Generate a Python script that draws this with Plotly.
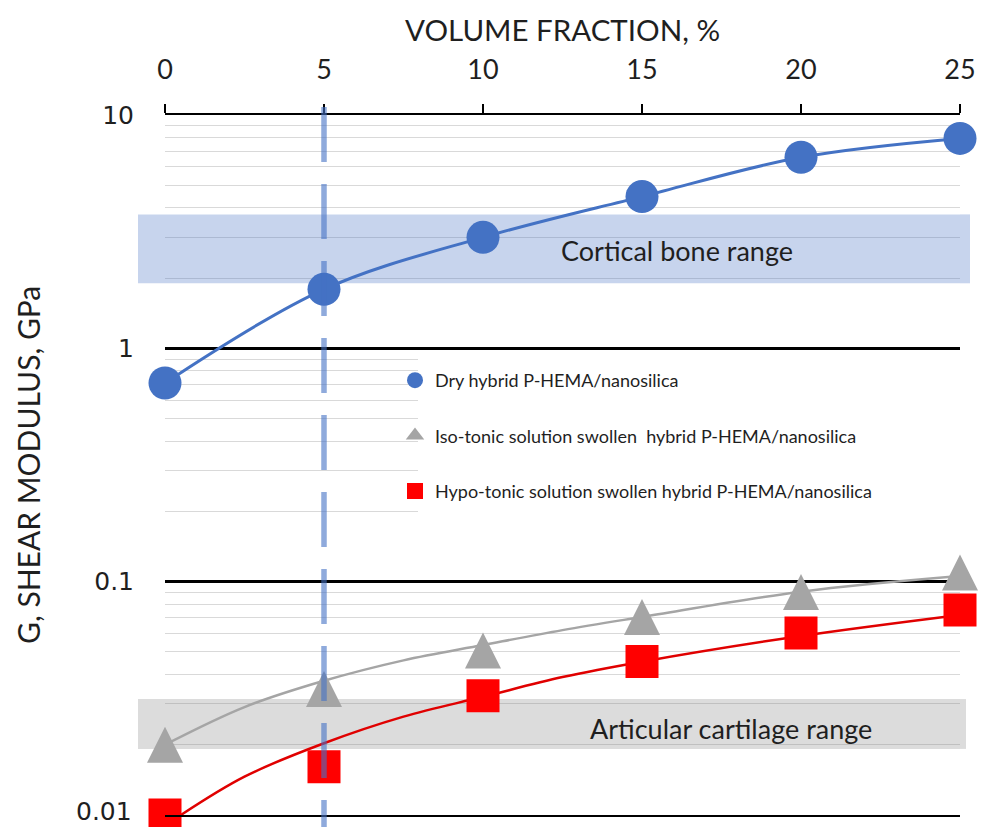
import plotly.graph_objects as go

# ---------------- data ----------------
VOLUME_FRACTION = [0, 5, 10, 15, 20, 25]
DRY = [0.71, 1.79, 2.99, 4.47, 6.59, 7.94]
ISO = [0.0200, 0.0347, 0.0507, 0.0706, 0.0903, 0.1095]
HYPO = [0.0100, 0.0161, 0.0324, 0.0455, 0.0603, 0.0756]

# trend curves drawn in the reference (read at several x positions)
ISO_FIT_X = [0, 2.5, 5, 7.5, 10, 12.5, 15, 20, 25]
ISO_FIT_Y = [0.0200, 0.0290, 0.0376, 0.0460, 0.0535, 0.0620, 0.0706, 0.0906, 0.1057]
HYPO_FIT_X = [0.5, 2.5, 5, 7.5, 10, 12.5, 15, 20, 25]
HYPO_FIT_Y = [0.0100, 0.0146, 0.0203, 0.0264, 0.0321, 0.0390, 0.0454, 0.0585, 0.0720]

CORTICAL_BONE_RANGE = [1.9, 3.75]
ARTICULAR_CARTILAGE_RANGE = [0.0192, 0.0314]
REFERENCE_FRACTION = 5

SERIES_NAMES = [
    "Dry hybrid P-HEMA/nanosilica",
    "Iso-tonic solution swollen  hybrid P-HEMA/nanosilica",
    "Hypo-tonic solution swollen hybrid P-HEMA/nanosilica",
]
X_TICKS = [0, 5, 10, 15, 20, 25]
Y_TICKS = [0.01, 0.1, 1, 10]
Y_TICK_TEXT = ["0.01", "0.1", "1", "10"]
Y_MINOR = [k * 10.0 ** e for e in (-2, -1, 0) for k in range(2, 10)]

X_TITLE = "VOLUME FRACTION, %"
Y_TITLE = "G, SHEAR MODULUS, GPa"
CORTICAL_LABEL = "Cortical bone range"
CARTILAGE_LABEL = "Articular cartilage range"

# ---------------- styling ----------------
BLUE = "#4472C4"
GREY = "#A5A5A5"
RED = "#FF0000"
TEXT = "#1f1f1f"
FONT = "Lato"
TICK_FONT = dict(family="DejaVu Sans", size=25, color=TEXT)
BAND_BLUE = "rgba(68,114,196,0.30)"
BAND_GREY = "rgba(120,120,120,0.26)"

X_RANGE = [0, 25]
PAGE_OFFSET = 8          # default body margin of the html page
W, H = 979, 819
ML, MR, MT, MB = 157, 27, 107, 12
PW, PH = W - ML - MR, H - MT - MB


def sx(px):
    """screen x pixel -> paper fraction"""
    return (px - PAGE_OFFSET - ML) / PW


def sy(py):
    """screen y pixel -> paper fraction"""
    return (H - MB - (py - PAGE_OFFSET)) / PH


fig = go.Figure()

# trend / connecting lines
fig.add_trace(go.Scatter(x=VOLUME_FRACTION, y=DRY, mode="lines",
                         line=dict(color=BLUE, width=3, shape="spline"),
                         showlegend=False, hoverinfo="skip"))
fig.add_trace(go.Scatter(x=ISO_FIT_X, y=ISO_FIT_Y, mode="lines",
                         line=dict(color=GREY, width=2.5, shape="spline"),
                         showlegend=False, hoverinfo="skip"))
fig.add_trace(go.Scatter(x=HYPO_FIT_X, y=HYPO_FIT_Y, mode="lines",
                         line=dict(color="#E00000", width=2.5, shape="spline"),
                         showlegend=False, hoverinfo="skip"))

# markers
fig.add_trace(go.Scatter(x=VOLUME_FRACTION, y=DRY, mode="markers", name=SERIES_NAMES[0],
                         legendgroup="a",
                         marker=dict(symbol="circle", size=33, color=BLUE),
                         cliponaxis=False))
# triangles: tall isosceles triangle centred on the value
fig.add_trace(go.Scatter(x=VOLUME_FRACTION, y=ISO, mode="markers", name=SERIES_NAMES[1],
                         legendgroup="b", showlegend=False,
                         marker=dict(symbol="arrow-down", angle=180, size=36, color=GREY,
                                     standoff=18),
                         cliponaxis=False))
# legend entry for the triangles
fig.add_trace(go.Scatter(x=[None], y=[None], mode="markers", name=SERIES_NAMES[1],
                         legendgroup="b",
                         marker=dict(symbol="triangle-up", size=18, color=GREY)))
fig.add_trace(go.Scatter(x=VOLUME_FRACTION, y=HYPO, mode="markers", name=SERIES_NAMES[2],
                         legendgroup="c",
                         marker=dict(symbol="square", size=33, color=RED),
                         cliponaxis=False))

band_l, band_r_c, band_r_a = sx(138), sx(970), sx(966)
shapes = []
for (lo, hi), col, right in ((CORTICAL_BONE_RANGE, BAND_BLUE, band_r_c),
                             (ARTICULAR_CARTILAGE_RANGE, BAND_GREY, band_r_a)):
    # inside the plot area: above the grid lines, below the data
    shapes.append(dict(type="rect", xref="x", yref="y", layer="between",
                       x0=X_RANGE[0], x1=X_RANGE[1], y0=lo, y1=hi,
                       fillcolor=col, line=dict(width=0)))
    # parts sticking out of the plot area on both sides
    shapes.append(dict(type="rect", xref="paper", yref="y", layer="below",
                       x0=band_l, x1=0, y0=lo, y1=hi, fillcolor=col, line=dict(width=0)))
    shapes.append(dict(type="rect", xref="paper", yref="y", layer="below",
                       x0=1, x1=right, y0=lo, y1=hi, fillcolor=col, line=dict(width=0)))

# white legend box hiding the grid lines behind the legend
shapes.append(dict(type="rect", xref="paper", yref="paper", layer="above",
                   x0=sx(418), x1=1.0, y0=sy(545), y1=sy(351),
                   fillcolor="white", line=dict(width=0)))
# dashed reference line at 5 %
shapes.append(dict(type="line", xref="x", yref="paper", layer="above",
                   x0=REFERENCE_FRACTION, x1=REFERENCE_FRACTION,
                   y0=sy(107), y1=sy(830),
                   line=dict(color="rgba(68,114,196,0.6)", width=5.5, dash="55px,22px")))

annotations = [
    dict(text=X_TITLE, xref="paper", yref="paper", x=0.5, y=sy(30),
         showarrow=False, font=dict(family=FONT, size=29.5, color=TEXT),
         xanchor="center", yanchor="middle"),
    dict(text=Y_TITLE, xref="paper", yref="paper", x=sx(28), y=0.5,
         textangle=-90, showarrow=False, font=dict(family=FONT, size=30, color=TEXT),
         xanchor="center", yanchor="middle"),
    dict(text=CORTICAL_LABEL, xref="paper", yref="paper",
         x=sx(677), y=sy(250), showarrow=False,
         font=dict(family=FONT, size=27, color=TEXT), xanchor="center", yanchor="middle"),
    dict(text=CARTILAGE_LABEL, xref="paper", yref="paper",
         x=sx(731), y=sy(728), showarrow=False,
         font=dict(family=FONT, size=27, color=TEXT), xanchor="center", yanchor="middle"),
    # lowest tick label, kept inside the page's bottom edge
    dict(text=Y_TICK_TEXT[0], xref="paper", yref="paper",
         x=sx(133), y=sy(827), showarrow=False, font=TICK_FONT,
         xanchor="right", yanchor="bottom", borderpad=0),
]

fig.update_layout(
    width=W, height=H,
    margin=dict(l=ML, r=MR, t=MT, b=MB, autoexpand=False),
    paper_bgcolor="white", plot_bgcolor="white",
    shapes=shapes, annotations=annotations,
    showlegend=True,
    legend=dict(x=sx(395), y=sy(362), xanchor="left", yanchor="top",
                bgcolor="rgba(0,0,0,0)", borderwidth=0, traceorder="grouped",
                tracegroupgap=29, itemsizing="trace",
                font=dict(family=FONT, size=18, color=TEXT)),
    xaxis=dict(range=X_RANGE, side="top", tickmode="array", tickvals=X_TICKS,
               ticks="outside", ticklen=9, tickwidth=1.5, tickcolor="black",
               showline=True, linecolor="black", linewidth=1.8, mirror=True,
               showgrid=False, zeroline=False, ticklabelstandoff=14,
               tickfont=dict(family=FONT, size=27, color=TEXT), fixedrange=True),
    yaxis=dict(type="log", range=[-2, 1], tickmode="array", tickvals=Y_TICKS,
               ticktext=[""] + Y_TICK_TEXT[1:], ticks="", showline=False, zeroline=False,
               showgrid=True, gridcolor="black", gridwidth=2.5,
               minor=dict(tickmode="array", tickvals=Y_MINOR, showgrid=True,
                          gridcolor="#D9D9D9", gridwidth=1.3, ticks=""),
               ticklabelstandoff=30, ticklabeloverflow="allow",
               tickfont=TICK_FONT, fixedrange=True),
)

fig.write_html("out.html")
